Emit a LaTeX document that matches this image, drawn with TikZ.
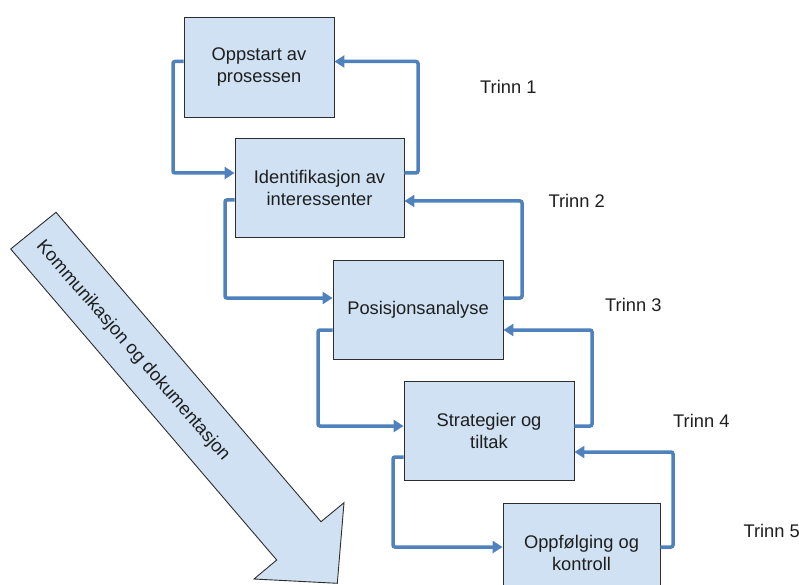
\documentclass[tikz,border=0pt]{standalone}
\usepackage{fontspec}
\setmainfont{Liberation Sans}
\usetikzlibrary{arrows.meta}
\definecolor{boxfill}{RGB}{207,225,242}
\definecolor{linkblue}{RGB}{79,129,189}
\definecolor{edgegray}{RGB}{45,45,45}
\definecolor{inkgray}{RGB}{30,30,30}
\begin{document}
\begin{tikzpicture}[x=1pt,y=-1pt,
  every node/.style={font=\fontsize{18.3}{22}\selectfont, text=inkgray},
  stepbox/.style={draw=edgegray, line width=0.9pt, fill=boxfill, align=center,
    inner sep=0pt, minimum width=#1, minimum height=99pt},
  stepbox/.default=170pt,
  link/.style={draw=linkblue, line width=3.5pt, rounded corners=2pt,
    -{Triangle[length=10pt,width=12pt]}},
  trinnlabel/.style={anchor=west, inner sep=0pt},
  flowarrow/.style={draw=edgegray, line width=0.9pt, fill=boxfill, line join=miter}
]
\useasboundingbox (0,0) rectangle (799,585);
\clip (0,0) rectangle (799,585);

% broad arrow along the left side
\draw[flowarrow] (10.7,249) -- (56,212.3) -- (321,521.7) -- (344,502.7)
  -- (337.3,583.3) -- (254,579) -- (276.7,560) -- cycle;
\node[rotate=-49, inner sep=0pt] (flow) at (133,351) {Kommunikasjon og dokumentasjon};

% process steps
\node[stepbox=150pt, minimum height=100pt] (b1) at (259,67) {Oppstart av\\prosessen};
\node[stepbox=169pt] (b2) at (319.5,187.5) {Identifikasjon av\\interessenter};
\node[stepbox] (b3) at (418,309.5) {Posisjonsanalyse};
\node[stepbox] (b4) at (489,430.5) {Strategier og\\tiltak};
\node[stepbox=157pt] (b5) at (581.5,552.5) {Oppfølging og\\kontroll};

% step labels
\node[trinnlabel] (t1) at (480,87.3) {Trinn 1};
\node[trinnlabel] (t2) at (548.3,200.7) {Trinn 2};
\node[trinnlabel] (t3) at (605,305) {Trinn 3};
\node[trinnlabel] (t4) at (673,420.7) {Trinn 4};
\node[trinnlabel] (t5) at (743.3,530.7) {Trinn 5};

% forward and feedback loops between the steps
\draw[link] (b1.west |- 0,61.5) -| (173,173) -- (b2.west |- 0,173);
\draw[link] (b2.east |- 0,173) -| (418,61.5) -- (b1.east |- 0,61.5);
\draw[link] (b2.west |- 0,200) -| (225,298) -- (b3.west |- 0,298);
\draw[link] (b3.east |- 0,298) -| (522,201) -- (b2.east |- 0,201);
\draw[link] (b3.west |- 0,330) -| (318,426) -- (b4.west |- 0,426);
\draw[link] (b4.east |- 0,426) -| (592,330) -- (b3.east |- 0,330);
\draw[link] (b4.west |- 0,457) -| (393,547) -- (b5.west |- 0,547);
\draw[link] (b5.east |- 0,547) -| (673,452) -- (b4.east |- 0,452);
\end{tikzpicture}
\end{document}
